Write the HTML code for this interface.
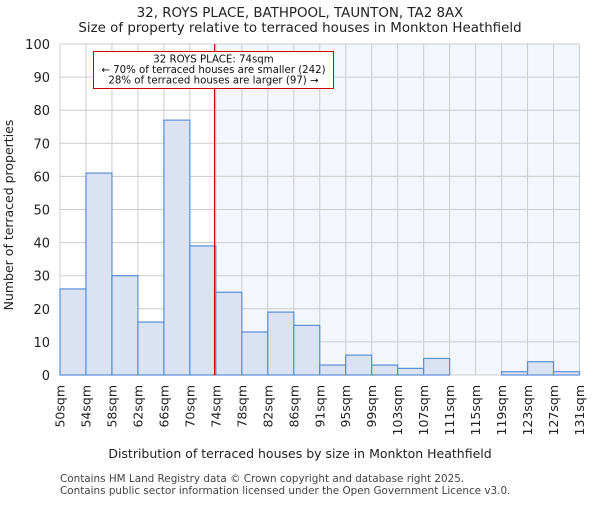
<!DOCTYPE html>
<html><head><meta charset="utf-8"><style>body{margin:0;background:#fff}svg{font-family:"DejaVu Sans","Liberation Sans",sans-serif}</style></head>
<body>
<svg id="c" width="600" height="500">
<text x="300" y="17" text-anchor="middle" font-size="13.4" fill="#222">32, ROYS PLACE, BATHPOOL, TAUNTON, TA2 8AX</text>
<text x="300" y="32" text-anchor="middle" font-size="13.4" fill="#222">Size of property relative to terraced houses in Monkton Heathfield</text>
<g id="plot"></g>
<text x="300" y="458" text-anchor="middle" font-size="12.5" fill="#222">Distribution of terraced houses by size in Monkton Heathfield</text>
<text transform="translate(13,215) rotate(-90)" text-anchor="middle" font-size="12.5" fill="#222">Number of terraced properties</text>
<text x="60" y="482" font-size="10.4" fill="#444">Contains HM Land Registry data © Crown copyright and database right 2025.</text>
<text x="60" y="494" font-size="10.4" fill="#444">Contains public sector information licensed under the Open Government Licence v3.0.</text>
</svg>
<script>
const categories=["50sqm","54sqm","58sqm","62sqm","66sqm","70sqm","74sqm","78sqm","82sqm","86sqm","91sqm","95sqm","99sqm","103sqm","107sqm","111sqm","115sqm","119sqm","123sqm","127sqm","131sqm"];
const counts=[26,61,30,16,77,39,25,13,19,15,3,6,3,2,5,0,0,1,4,1];
const yTicks=[0,10,20,30,40,50,60,70,80,90,100];
const markerBin=5.95;
const NS="http://www.w3.org/2000/svg";
const L=60,R=579.5,T=44,B=375;
const n=counts.length,bw=(R-L)/n;
const x=i=>L+i*bw, y=v=>B-(v/100)*(B-T);
const g=document.getElementById('plot');
function el(t,a){const e=document.createElementNS(NS,t);for(const k in a)e.setAttribute(k,a[k]);g.appendChild(e);return e;}
let e;
e=el('rect',{x:x(markerBin),y:T,width:R-x(markerBin),height:B-T,fill:'#f3f6fd'});


yTicks.forEach(v=>{
 e=el('line',{x1:L,x2:R,y1:y(v),y2:y(v),stroke:'#ccc'});
 
 
 e=el('text',{x:L-10,y:y(v)+5,'text-anchor':'end','font-size':13,fill:'#222'});
 e.textContent=v;
 
 
});
categories.forEach((c,i)=>{
 e=el('line',{x1:x(i),x2:x(i),y1:T,y2:B,stroke:'#ccc'});
 
 
 e=el('text',{transform:`translate(${x(i)+4.5},385) rotate(-90)`,'text-anchor':'end','font-size':12.5,fill:'#222'});
 e.textContent=c;
 
 
});
counts.forEach((v,i)=>{
 e=el('rect',{x:x(i),y:y(v),width:bw,height:B-y(v),fill:'#dae3f3',stroke:'#5b8ed6','stroke-width':1.2});
 
 
});
e=el('line',{x1:x(markerBin),x2:x(markerBin),y1:T,y2:B,stroke:'#c00','stroke-width':1.2});


e=el('rect',{x:93.5,y:51.5,width:240,height:37,fill:'#fff',stroke:'#c00'});


["32 ROYS PLACE: 74sqm","← 70% of terraced houses are smaller (242)","28% of terraced houses are larger (97) →"].forEach((t,k)=>{
 e=el('text',{x:213.5,y:62.5+k*10.5,'text-anchor':'middle','font-size':10.2,fill:'#111'});
 e.textContent=t;
 
 
});
</script>
</body></html>
